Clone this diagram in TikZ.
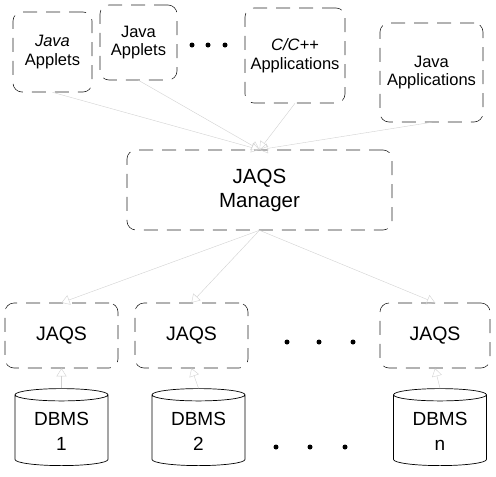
\documentclass[tikz,border=0pt]{standalone}
\usepackage{fontspec}
\setmainfont{Liberation Sans}
\usetikzlibrary{shapes.geometric, positioning, arrows.meta}

\begin{document}
\begin{tikzpicture}[x=1pt, y=-1pt,
        % Style for the client boxes on top
        appbox/.style={
            draw=black!85,
            line width=0.6pt,
            dash pattern=on 14pt off 9pt,
            rounded corners=9pt,
            align=center,
            font=\fontsize{16.5}{18.5}\selectfont
        },
        % Style for the JAQS boxes
        jaqsbox/.style={
            appbox,
            minimum width=113pt,
            minimum height=65pt,
            font=\fontsize{19.5}{22}\selectfont
        },
        % Style for the database drums
        dbms/.style={
            draw,
            line width=0.7pt,
            cylinder,
            shape border rotate=90,
            aspect=0.2,
            minimum width=93pt,
            minimum height=77pt,
            align=center,
            font=\fontsize{19}{25}\selectfont
        },
        % Style for the faded connectors
        link/.style={
            draw=black!18,
            -{Triangle[open, length=8pt, width=10pt]}
        },
        % Style for the ellipsis dots
        dot/.style={
            circle,
            fill,
            inner sep=0pt,
            minimum size=5pt
        }
    ]
    \useasboundingbox (0,0) rectangle (496,477);

    % ==========================================
    % CLIENTS
    % ==========================================
    \node[appbox, minimum width=79pt, minimum height=80pt] (appletA) at (52.5,52) {\textit{Java}\\Applets};
    \node[appbox, minimum width=77pt, minimum height=75pt] (appletB) at (138.5,42.5) {Java\\Applets};
    \node[appbox, minimum width=100pt, minimum height=95pt] (capp) at (295,55.5) {\textit{C/C++}\\Applications};
    \node[appbox, minimum width=103pt, minimum height=99pt] (japp) at (431.5,72.5) {Java\\Applications};

    \node[dot] (d1) at (192,45) {};
    \node[dot] (d2) at (208,45) {};
    \node[dot] (d3) at (225,45) {};

    % ==========================================
    % MANAGER
    % ==========================================
    \node[appbox, minimum width=265pt, minimum height=80pt,
          font=\fontsize{20.5}{24}\selectfont] (manager) at (259.5,190) {JAQS\\Manager};

    % ==========================================
    % JAQS AND DATABASES
    % ==========================================
    \node[jaqsbox] (jaqs1) at (61.5,335.5) {JAQS};
    \node[jaqsbox] (jaqs2) at (191.5,335.5) {JAQS};
    \node[jaqsbox, minimum width=110pt] (jaqsn) at (435,335.5) {JAQS};

    \node[dot] (e1) at (287,342) {};
    \node[dot] (e2) at (319,342) {};
    \node[dot] (e3) at (353,342) {};

    \node[dbms] (db1) at (61.5,431.5) {DBMS\\1};
    \node[dbms] (db2) at (198.5,431.5) {DBMS\\2};
    \node[dbms] (dbn) at (440,431.5) {DBMS\\n};

    \node[dot] (f1) at (276,447) {};
    \node[dot] (f2) at (310,447) {};
    \node[dot] (f3) at (345,447) {};

    % Connectors
    \foreach \src in {appletA, appletB, capp, japp}
        \draw[link] (\src.south) -- (manager.north);
    \foreach \dst in {jaqs1, jaqs2, jaqsn}
        \draw[link] (manager.south) -- (\dst.north);
    \draw[link] (db1.top) -- (jaqs1.south);
    \draw[link] (db2.top) -- (jaqs2.south);
    \draw[link] (dbn.top) -- (jaqsn.south);

\end{tikzpicture}
\end{document}
